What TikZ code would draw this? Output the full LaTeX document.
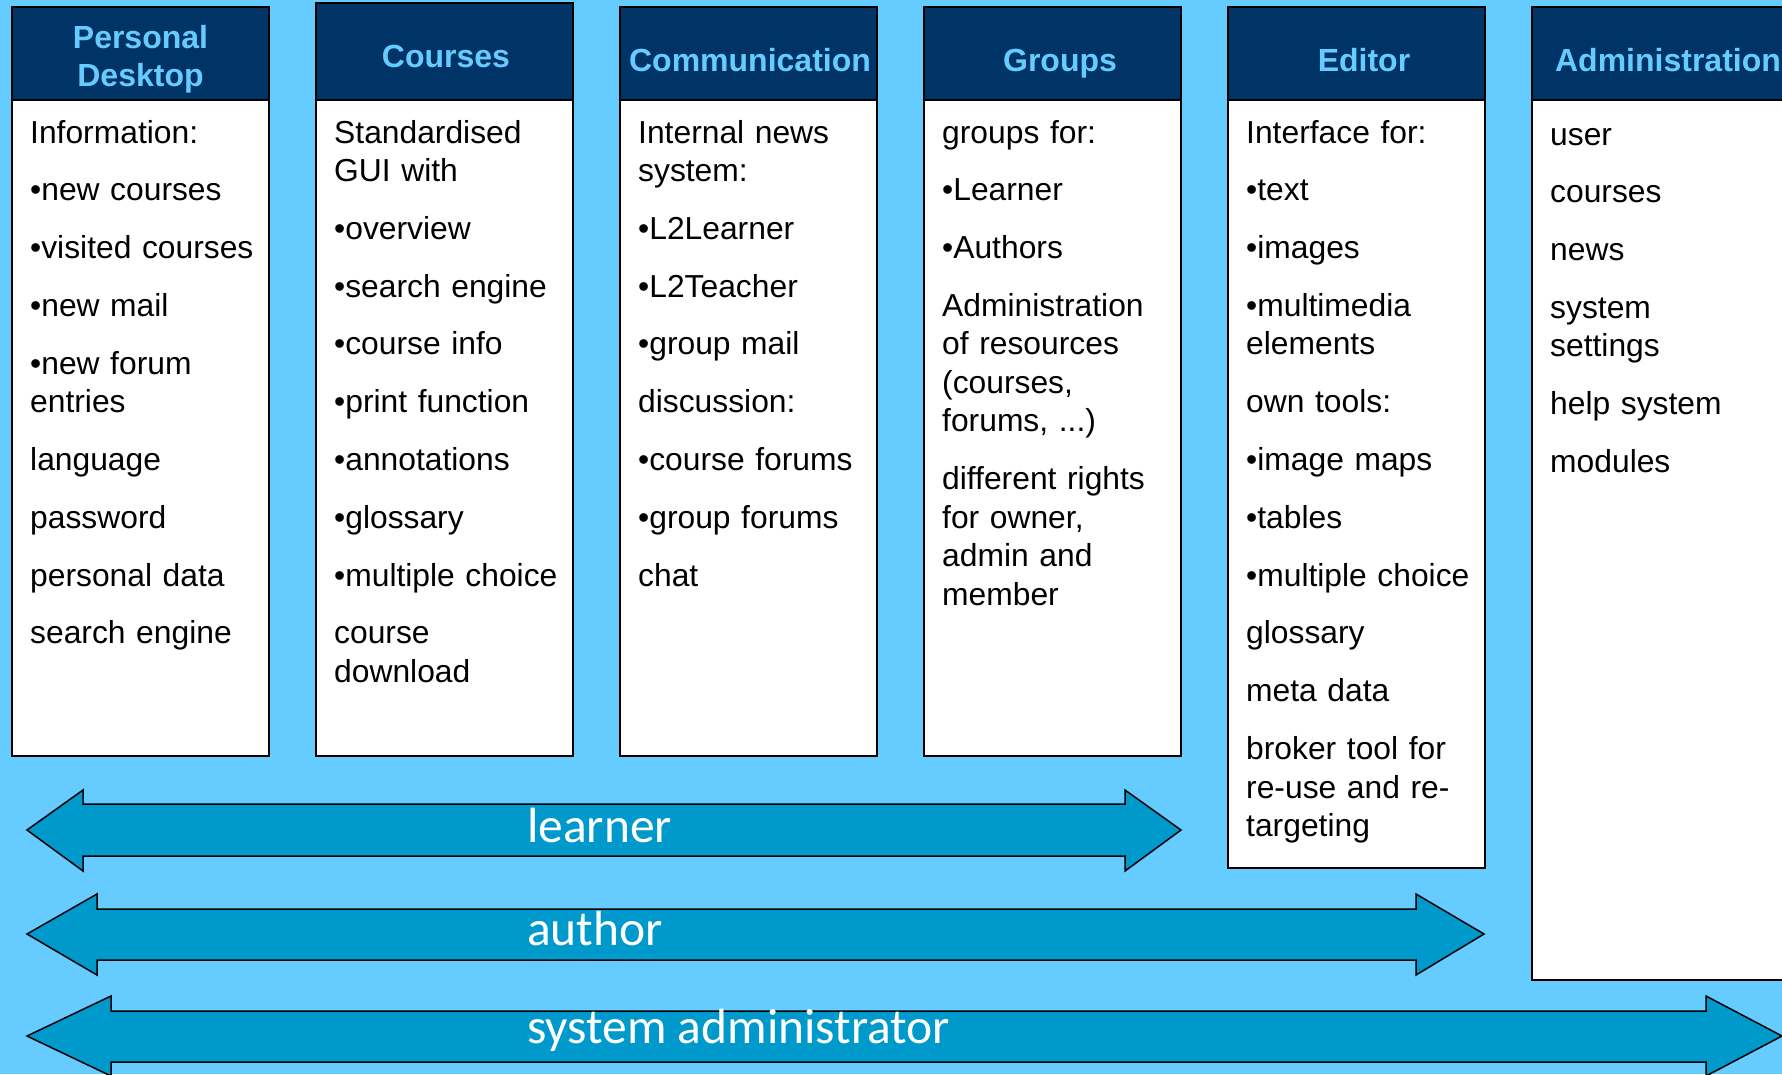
\documentclass[tikz,border=0pt]{standalone}
\usepackage{fontspec}
\setmainfont{Liberation Sans}
\newfontfamily\rolefont{Carlito}
\definecolor{sky}{HTML}{66CCFF}
\definecolor{navy}{HTML}{003366}
\definecolor{band}{HTML}{0099CC}
\begin{document}
\begin{tikzpicture}[x=1pt, y=-1pt,
    panel/.style={draw=black, line width=1.5pt, fill=white},
    headbar/.style={draw=black, line width=1.5pt, fill=navy},
    title/.style={inner sep=0pt, text=sky, align=center, font=\fontsize{32}{38}\selectfont\bfseries},
    entry/.style={anchor=base west, inner sep=0pt, text width=245pt, align=left, font=\fontsize{31.8}{38.5}\selectfont},
    roleband/.style={draw=black, line width=1.5pt, fill=band},
    rolename/.style={anchor=base west, inner sep=0pt, text=white, font=\rolefont\fontsize{49.5}{50}\selectfont}]
        \def\w{257}
        \def\gap{\\[19.3pt]}

        \useasboundingbox (0,0) rectangle (1782,1074);
        \fill[sky] (0,0) rectangle (1782,1074);

        % columns
        \draw[panel] (12,7) rectangle ++(\w,749);\draw[headbar] (12,7) rectangle ++(\w,93);
        \draw[panel] (316,3) rectangle ++(\w,753);\draw[headbar] (316,3) rectangle ++(\w,97);
        \draw[panel] (620,7) rectangle ++(\w,749);\draw[headbar] (620,7) rectangle ++(\w,93);
        \draw[panel] (924,7) rectangle ++(\w,749);\draw[headbar] (924,7) rectangle ++(\w,93);
        \draw[panel] (1228,7) rectangle ++(\w,861);\draw[headbar] (1228,7) rectangle ++(\w,93);
        \draw[panel] (1532,7) rectangle ++(\w,973);\draw[headbar] (1532,7) rectangle ++(\w,93);

        \node[title] (desk) at (140.5,59) {Personal\\Desktop};
        \node[title, anchor=base] (crs) at (446,67) {Courses};
        \node[title, anchor=base] (comm) at (750,71) {Communication};
        \node[title, anchor=base] (grp) at (1060,71) {Groups};
        \node[title, anchor=base] (edit) at (1364,71) {Editor};
        \node[title, anchor=base] (admin) at (1668,71) {Administration};

        \node[entry] (desktxt) at (30,143) {Information:\gap •new courses\gap •visited courses\gap •new mail\gap •new forum\\entries\gap language\gap password\gap personal data\gap search engine};
        \node[entry] (crstxt) at (334,143) {Standardised\\GUI with\gap •overview\gap •search engine\gap •course info\gap •print function\gap •annotations\gap •glossary\gap •multiple choice\gap course\\download};
        \node[entry] (commtxt) at (638,143) {Internal news\\system:\gap •L2Learner\gap •L2Teacher\gap •group mail\gap discussion:\gap •course forums\gap •group forums\gap chat};
        \node[entry] (grptxt) at (942,143) {groups for:\gap •Learner\gap •Authors\gap Administration\\of resources\\(courses,\\forums, ...)\gap different rights\\for owner,\\admin and\\member};
        \node[entry] (edittxt) at (1246,143) {Interface for:\gap •text\gap •images\gap •multimedia\\elements\gap own tools:\gap •image maps\gap •tables\gap •multiple choice\gap glossary\gap meta data\gap broker tool for\\re-use and re-\\targeting};
        \node[entry] (admintxt) at (1550,145) {user\gap courses\gap news\gap system\\settings\gap help system\gap modules};

        % role arrows
        \draw[roleband] (27,830) -- (83,790) -- (83,804) -- (1125,804) -- (1125,790) -- (1181,830) -- (1125,871) -- (1125,856) -- (83,856) -- (83,871) -- cycle;
        \draw[roleband] (27,934) -- (97,894) -- (97,909) -- (1416,909) -- (1416,894) -- (1484,934) -- (1416,975) -- (1416,960) -- (97,960) -- (97,975) -- cycle;
        \draw[roleband] (27,1036) -- (111,996) -- (111,1011) -- (1706,1011) -- (1706,996) -- (1782,1036) -- (1706,1076) -- (1706,1062) -- (111,1062) -- (111,1076) -- cycle;

        \node[rolename] (lrn) at (527,842) {learner};
        \node[rolename] (auth) at (527,945) {author};
        \node[rolename] (sysad) at (527,1043) {system administrator};
    \end{tikzpicture}
\end{document}
